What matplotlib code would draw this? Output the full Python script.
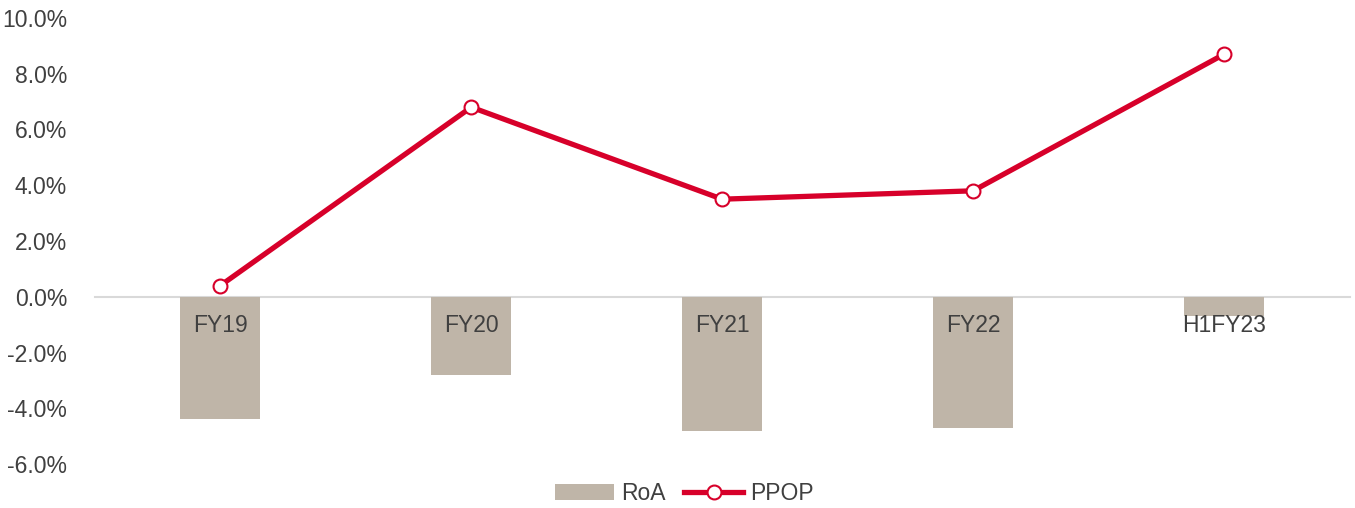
import matplotlib.pyplot as plt
from matplotlib.ticker import FuncFormatter

categories = ['FY19', 'FY20', 'FY21', 'FY22', 'H1FY23']
roa = [-4.4, -2.8, -4.8, -4.7, -0.7]
ppop = [0.4, 6.8, 3.5, 3.8, 8.7]

plt.rcParams['font.family'] = ['Liberation Sans', 'DejaVu Sans']
text_color = '#404040'

fig = plt.figure(figsize=(13.55, 5.08), dpi=100)
ax = fig.add_axes([0.070, 0.0866, 0.926, 0.878])

x = list(range(len(categories)))
bars = ax.bar(x, roa, width=0.32, color='#BFB5A8', label='RoA', zorder=2)
line, = ax.plot(x, ppop, color='#D7002A', linewidth=3.8, marker='o', markersize=10,
                markerfacecolor='white', markeredgecolor='#D7002A', markeredgewidth=1.5,
                label='PPOP', zorder=3)

ax.set_xlim(-0.5, 4.5)
ax.set_ylim(-6, 10)
ax.set_yticks(range(-6, 11, 2))
ax.yaxis.set_major_formatter(FuncFormatter(lambda v, p: f'{v:.1f}%'))

for s in ['top', 'right', 'left']:
    ax.spines[s].set_visible(False)
ax.spines['bottom'].set_position(('data', 0))
ax.spines['bottom'].set_color('#D9D9D9')
ax.spines['bottom'].set_linewidth(1.5)
ax.spines['bottom'].set_zorder(1)

ax.set_xticks([])
for i, c in enumerate(categories):
    ax.annotate(c, (i, 0), xytext=(0, -21), textcoords='offset points',
                ha='center', va='center', fontsize=16.5, color=text_color, zorder=5)
ax.tick_params(axis='y', length=0, pad=20, labelsize=16.5, labelcolor=text_color)

fig.legend([bars, line], ['RoA', 'PPOP'], loc='center', bbox_to_anchor=(0.505, 0.029),
           ncol=2, frameon=False, fontsize=16.5, labelcolor=text_color,
           handlelength=2.6, handletextpad=0.3, columnspacing=0.8)

fig.savefig('out.png', dpi=100)
